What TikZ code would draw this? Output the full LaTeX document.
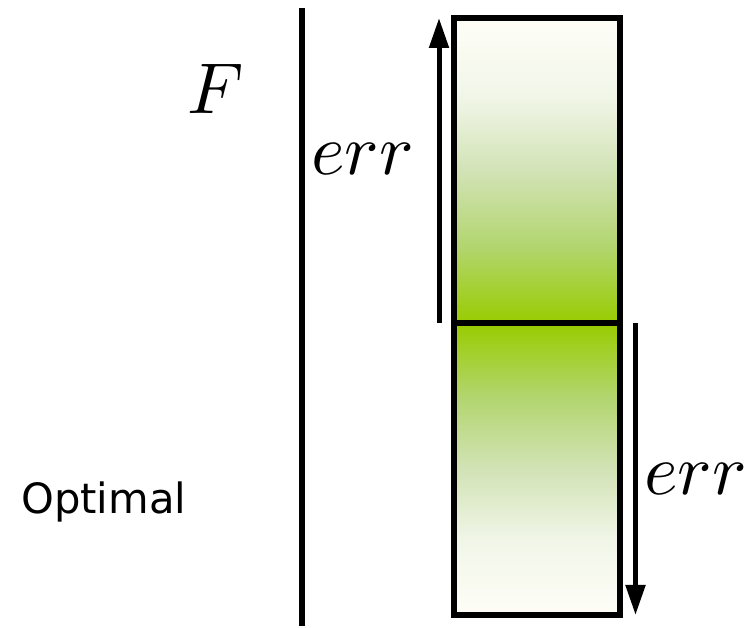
\documentclass[tikz,border=0pt]{standalone}
\usepackage{fontspec}
\newfontfamily\dejavu{DejaVu Sans}
\usetikzlibrary{arrows.meta}
\definecolor{gA}{RGB}{153,204,0}
\definecolor{gB}{RGB}{178,213,110}
\definecolor{gC}{RGB}{210,227,182}
\definecolor{gD}{RGB}{242,246,233}
\definecolor{gE}{RGB}{254,254,247}
\pgfdeclareverticalshading{upgrad}{100bp}{color(0bp)=(gA); color(25bp)=(gA); color(37.5bp)=(gB); color(50bp)=(gC); color(62.5bp)=(gD); color(75bp)=(gE); color(100bp)=(gE)}
\pgfdeclareverticalshading{downgrad}{100bp}{color(0bp)=(gE); color(25bp)=(gE); color(37.5bp)=(gD); color(50bp)=(gC); color(62.5bp)=(gB); color(75bp)=(gA); color(100bp)=(gA)}
\tikzset{
  boxline/.style={line width=6pt, black},
  axisline/.style={line width=5.5pt, black},
  errarrow/.style={line width=5pt, black, -{Triangle[width=19pt,length=30pt]}},
  mathlabel/.style={inner sep=0pt, anchor=base west, scale=7.2, font=\normalsize},
  textlabel/.style={inner sep=0pt, anchor=base west, font=\dejavu\fontsize{41.7}{50}\selectfont},
}
\begin{document}
\begin{tikzpicture}[x=1pt,y=1pt]
\useasboundingbox (0,0) rectangle (750,628);
% coordinates
\coordinate (axtop) at (302,620);
\coordinate (axbot) at (302,2);
\coordinate (rtl) at (454,610);
\coordinate (rbr) at (620,12.5);
\coordinate (rml) at (454,304.5);
\coordinate (rmr) at (620,304.5);
\coordinate (upstart) at (439,305);
\coordinate (upend) at (439,610);
\coordinate (downstart) at (635.5,305);
\coordinate (downend) at (635.5,13);
% axis
\draw[axisline] (axtop) -- (axbot);
% shaded halves
\shade[shading=upgrad] (rml) rectangle (rtl -| rmr);
\shade[shading=downgrad] (rbr -| rml) rectangle (rmr);
% box
\draw[boxline] (rtl) rectangle (rbr);
\draw[boxline] (rml) -- (rmr);
% arrows
\draw[errarrow] (upstart) -- (upend);
\draw[errarrow] (downstart) -- (downend);
% labels
\node[mathlabel] (F) at (186,514) {$F$};
\node[mathlabel] (err1) at (310,453) {$err$};
\node[mathlabel] (err2) at (643,133) {$err$};
\node[textlabel] (opt) at (21,114) {Optimal};
\end{tikzpicture}
\end{document}
